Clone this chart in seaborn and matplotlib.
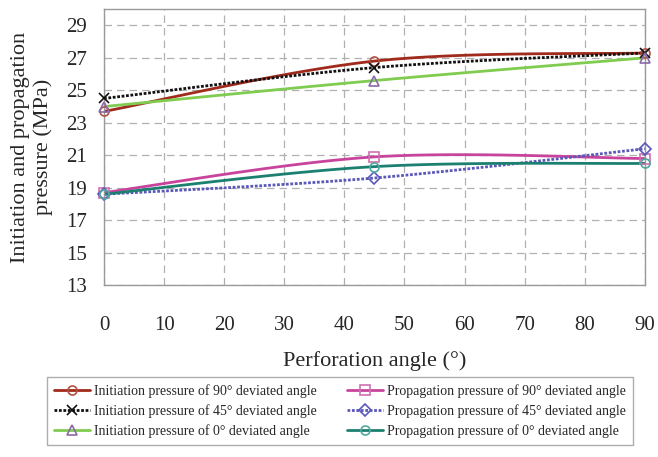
import numpy as np
import pandas as pd
import matplotlib
matplotlib.use("Agg")
import matplotlib.pyplot as plt
from matplotlib.lines import Line2D
import seaborn as sns

# Data
angles = [0, 45, 90]
init_90 = [23.7, 26.8, 27.3]
init_45 = [24.5, 26.4, 27.3]
init_0 = [24.0, 25.6, 27.0]
prop_90 = [18.7, 20.9, 20.8]
prop_45 = [18.6, 19.6, 21.4]
prop_0 = [18.6, 20.3, 20.5]

labels = [
    "Initiation pressure of 90° deviated angle",
    "Initiation pressure of 45° deviated angle",
    "Initiation pressure of 0° deviated angle",
    "Propagation pressure of 90° deviated angle",
    "Propagation pressure of 45° deviated angle",
    "Propagation pressure of 0° deviated angle",
]
series = [init_90, init_45, init_0, prop_90, prop_45, prop_0]

# style per series: line colour, linestyle, marker, marker edge colour
styles = [
    ("#a02a1c", "-", "o", "#b05040"),
    ("#111111", (0, (1, 0.6)), "x", "#111111"),
    ("#80cc50", "-", "^", "#8a6aa8"),
    ("#c8449c", "-", "s", "#d070b0"),
    ("#5a58b8", (0, (1, 0.6)), "D", "#5a58b8"),
    ("#1c8070", "-", "o", "#50a8a0"),
]


def smooth(x, y, n=60):
    # Excel-style smoothed line (Bezier segments through the points)
    x = np.asarray(x, float)
    y = np.asarray(y, float)
    pts = np.column_stack([x, y])
    out = []
    for i in range(len(pts) - 1):
        p0 = pts[i - 1] if i > 0 else pts[i]
        p1 = pts[i]
        p2 = pts[i + 1]
        p3 = pts[i + 2] if i + 2 < len(pts) else pts[i + 1]
        c1 = p1 + (p2 - p0) / 6
        c2 = p2 - (p3 - p1) / 6
        t = np.linspace(0, 1, n)[:, None]
        seg = ((1 - t) ** 3) * p1 + 3 * ((1 - t) ** 2) * t * c1 + 3 * (1 - t) * t ** 2 * c2 + t ** 3 * p2
        out.append(seg if i == 0 else seg[1:])
    seg = np.vstack(out)
    return seg[:, 0], seg[:, 1]


sns.set_style("white")
plt.rcParams["font.family"] = ["Liberation Serif", "DejaVu Serif"]

fig = plt.figure(figsize=(6.58, 4.57), dpi=100)
ax = fig.add_axes([0.158, 0.376, 0.822, 0.604])

handles = []
for vals, lab, (col, ls, mk, mec) in zip(series, labels, styles):
    sx, sy = smooth(angles, vals)
    sns.lineplot(x=sx, y=sy, ax=ax, color=col, linestyle=ls, linewidth=2.0,
                 sort=False, estimator=None, legend=False)
    ax.plot(angles, vals, linestyle="none", marker=mk, markersize=6.5,
            markerfacecolor="none", markeredgecolor=mec, markeredgewidth=1.2,
            clip_on=False, zorder=5)
    handles.append(Line2D([0], [0], color=col, linestyle=ls, linewidth=2.0,
                          marker=mk, markersize=6.5, markerfacecolor="none",
                          markeredgecolor=mec, markeredgewidth=1.2))

ax.set_xlim(0, 90)
ax.set_ylim(13, 30)
ax.set_xticks(np.arange(0, 91, 10))
ax.set_yticks(np.arange(13, 30, 2))
ax.grid(True, color="#b0b0b0", linestyle=(0, (6, 4)), linewidth=0.9)
for s in ax.spines.values():
    s.set_color("#999999")
    s.set_linewidth(1.0)
ax.tick_params(axis="x", labelsize=15, length=0, pad=22)
ax.tick_params(axis="y", labelsize=15, length=0, pad=12)

ax.set_xlabel("Perforation angle (°)", fontsize=16, labelpad=12)
ax.set_ylabel("Initiation and propagation\npressure (MPa)", fontsize=16, labelpad=10)

fig.legend(handles, labels,
           ncol=2, loc="lower left", bbox_to_anchor=(0.061, 0.011, 0.912, 0.14),
           mode="expand", fontsize=10, frameon=True, fancybox=False,
           edgecolor="#999999", handlelength=2.6, handletextpad=0.3,
           columnspacing=1.0, labelspacing=0.45, borderpad=0.5)

fig.savefig("out.png", dpi=100)
